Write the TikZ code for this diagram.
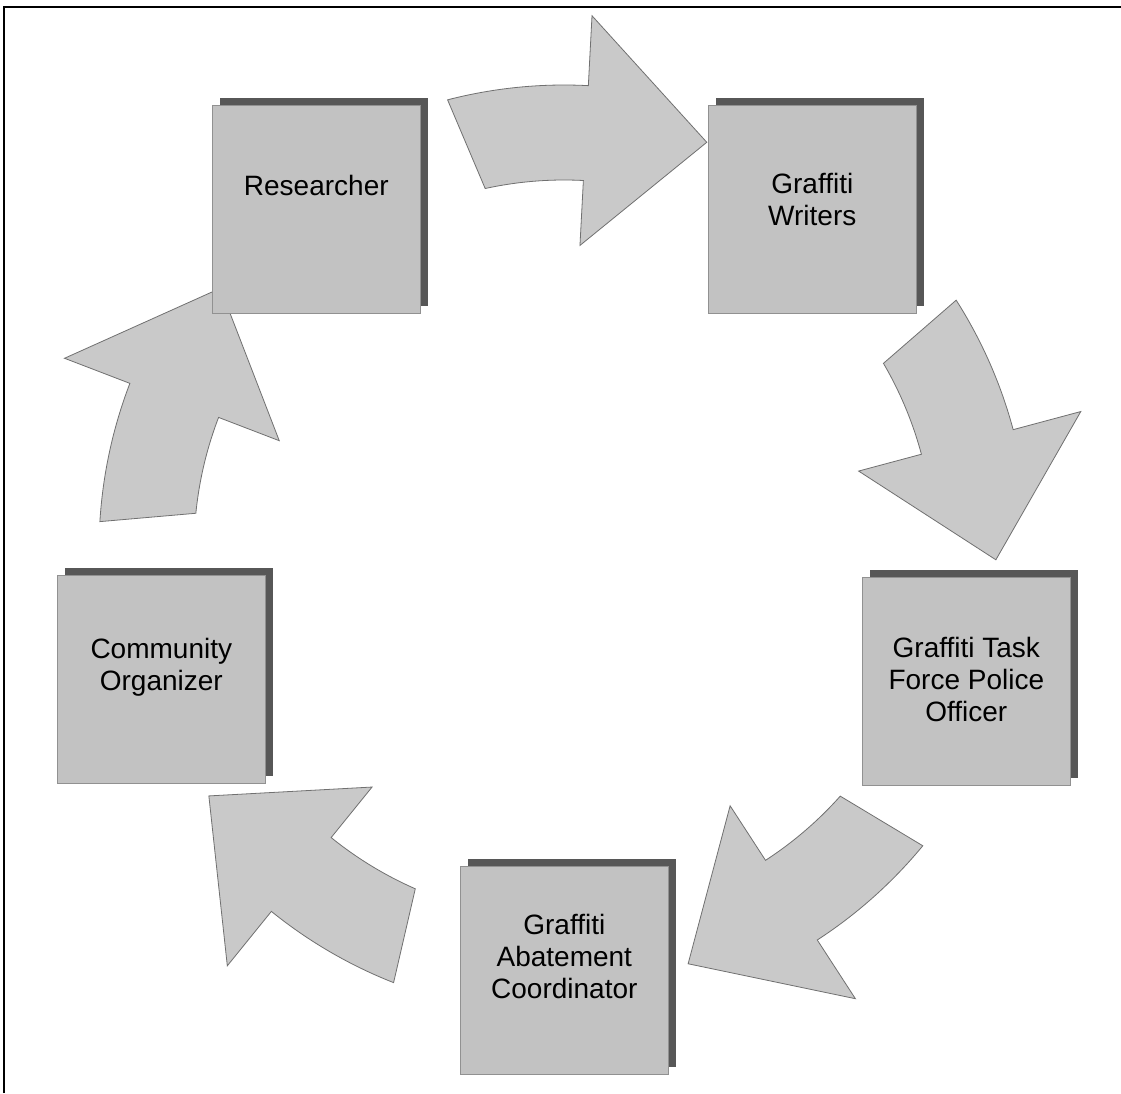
\documentclass[tikz,border=0pt]{standalone}
\usepackage{fontspec}
\setmainfont{Liberation Sans}
\usetikzlibrary{shadows}

\definecolor{facegray}{HTML}{C2C2C2}
\definecolor{backgray}{HTML}{575757}
\definecolor{arrowgray}{HTML}{C9C9C9}
\definecolor{edgegray}{HTML}{707070}

% curved block arrow around the hub; #1 = angle of the arrow-head base
\newcommand\roundarrow[1]{%
  \path[cyclearrow]
    ([shift={(hub)}]#1+17.5:465) arc[start angle=#1+17.5, end angle=#1, radius=465pt]
    -- ([shift={(hub)}]#1:535)
    -- ([shift={(hub)}]#1-16.3:432)
    -- ([shift={(hub)}]#1:305)
    -- ([shift={(hub)}]#1:370)
    arc[start angle=#1, end angle=#1+15.3, radius=370pt]
    -- cycle;}

\begin{document}
\begin{tikzpicture}[x=1pt,y=1pt,
  rolebox/.style={draw=facegray!75!black, line width=0.6pt, fill=facegray,
    minimum width=208pt, minimum height=208pt, inner sep=0pt, anchor=north west,
    general shadow={fill=backgray, shadow xshift=8pt, shadow yshift=7pt}},
  rolelabel/.style={font=\fontsize{28}{32}\selectfont, align=center, text=black},
  cyclearrow/.style={fill=arrowgray, draw=edgegray, line width=0.8pt, line join=miter}]

\useasboundingbox (0,0) rectangle (1121,-1093);
\fill[white] (0,0) rectangle (1121,-1093);

% frame lines on the top and left edges
\draw[line width=2pt] (4,-1093) -- (4,-7) -- (1121,-7);

% centre of the cycle
\coordinate (hub) at (564,-550);

% curved arrows, clockwise
\roundarrow{87}
\roundarrow{15}
\roundarrow{-57}
\roundarrow{-129}
\roundarrow{159}

% role boxes
\node[rolebox] (res) at (212,-105) {};
\node[rolebox] (wri) at (708,-105) {};
\node[rolebox] (pol) at (862,-577) {};
\node[rolebox] (aba) at (460,-866) {};
\node[rolebox] (com) at (57,-575) {};

% labels
\node[rolelabel] (resL) at ([yshift=24pt]res.center) {Researcher};
\node[rolelabel] (wriL) at ([yshift=10pt]wri.center) {Graffiti\\Writers};
\node[rolelabel] (polL) at ([yshift=2pt]pol.center) {Graffiti Task\\Force Police\\Officer};
\node[rolelabel] (abaL) at ([yshift=14pt]aba.center) {Graffiti\\Abatement\\Coordinator};
\node[rolelabel] (comL) at ([yshift=12pt]com.center) {Community\\Organizer};

\end{tikzpicture}
\end{document}
